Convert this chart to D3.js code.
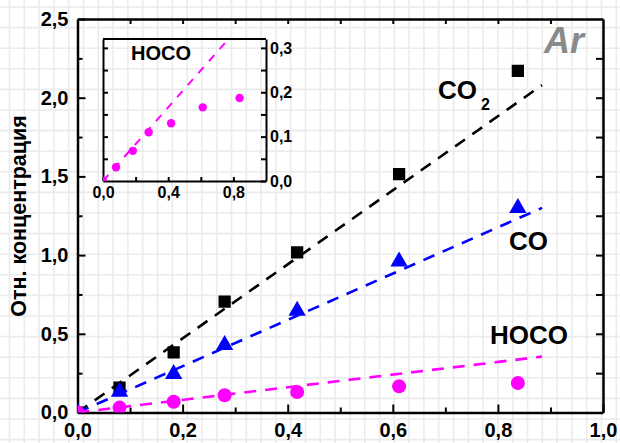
<!DOCTYPE html>
<html><head><meta charset="utf-8">
<script src="https://cdn.jsdelivr.net/npm/d3@7"></script>
<style>
body{margin:0;background:#fff}
svg text{font-family:"Liberation Sans",Arial,sans-serif;font-weight:bold}
</style>
</head><body>
<svg id="c" width="620" height="443"></svg>
<script>
// ---- data ----
const xVals   = [0, 0.08, 0.183, 0.28, 0.418, 0.612, 0.838];
const co2Vals = [0, 0.158, 0.382, 0.705, 1.018, 1.515, 2.17];
const coVals  = [0, 0.132, 0.245, 0.429, 0.647, 0.96, 1.30];
const hocoVals= [0, 0.031, 0.068, 0.11, 0.13, 0.166, 0.187];
const fitX    = [0, 0.884];
const co2Fit  = [0, 2.08];
const coFit   = [0, 1.30];
const hocoFit = [0, 0.355];
const insetFitX = [0, 0.77];
const insetFitY = [0, 0.32];
const xMajor = [0, 0.2, 0.4, 0.6, 0.8, 1.0];
const yMajor = [0, 0.5, 1.0, 1.5, 2.0, 2.5];
const insetXTicks = [0, 0.4, 0.8];
const insetYTicks = [0, 0.1, 0.2, 0.3];
const yTitle = "Отн. концентрация";

const svg = d3.select("#c");
const W = 620, H = 443;
const fmt = v => d3.format(".1f")(v).replace(".", ",");

// background grid
const gridG = svg.append("g").attr("stroke", "#ebebeb").attr("stroke-width", 1.6);
d3.range(9.5, W, 14.8).forEach(x => gridG.append("line").attr("x1", x).attr("x2", x).attr("y1", 0).attr("y2", H));
d3.range(7, H, 20.6).forEach(y => gridG.append("line").attr("y1", y).attr("y2", y).attr("x1", 0).attr("x2", W));

// main scales
const x = d3.scaleLinear([0, 1], [77.5, 603]);
const y = d3.scaleLinear([0, 2.5], [412.5, 19]);

svg.append("clipPath").attr("id", "mainClip").append("rect")
  .attr("x", x(0)).attr("y", y(2.5)).attr("width", x(1) - x(0)).attr("height", y(0) - y(2.5));

function styleAxis(g, w) {
  g.select(".domain").attr("stroke-width", w);
  g.selectAll(".tick line").attr("stroke-width", 2);
}

// minor ticks
const xMinor = d3.range(0.1, 1, 0.2);
const yMinor = d3.range(0.25, 2.5, 0.5);
svg.append("g").attr("transform", `translate(0,${y(0)})`)
  .call(d3.axisBottom(x).tickValues(xMinor).tickSize(-5).tickFormat(""))
  .call(g => { g.select(".domain").remove(); g.selectAll("line").attr("stroke-width", 2); });
svg.append("g").attr("transform", `translate(${x(0)},0)`)
  .call(d3.axisLeft(y).tickValues(yMinor).tickSize(-5).tickFormat(""))
  .call(g => { g.select(".domain").remove(); g.selectAll("line").attr("stroke-width", 2); });
// top & right
svg.append("g").attr("transform", `translate(0,${y(2.5)})`)
  .call(d3.axisTop(x).tickValues(d3.range(0.1, 1, 0.1)).tickSize(-5).tickSizeOuter(0).tickFormat(""))
  .call(g => styleAxis(g, 2.5));
svg.append("g").attr("transform", `translate(${x(1)},0)`)
  .call(d3.axisRight(y).tickValues(d3.range(0.25, 2.5, 0.25)).tickSize(-7).tickSizeOuter(0).tickFormat(""))
  .call(g => styleAxis(g, 2.5));
// bottom & left
const xa = svg.append("g").attr("transform", `translate(0,${y(0)})`)
  .call(d3.axisBottom(x).tickValues(xMajor).tickSize(-8).tickSizeOuter(0).tickPadding(10).tickFormat(fmt))
  .call(g => styleAxis(g, 2.5));
xa.selectAll("text").attr("font-size", 20).attr("fill", "#000");
const ya = svg.append("g").attr("transform", `translate(${x(0)},0)`)
  .call(d3.axisLeft(y).tickValues(yMajor).tickSize(-8).tickSizeOuter(0).tickPadding(9).tickFormat(fmt))
  .call(g => styleAxis(g, 2.5));
ya.selectAll("text").attr("font-size", 20).attr("fill", "#000");

// y title
svg.append("text").attr("transform", `translate(26,216) rotate(-90)`)
  .attr("text-anchor", "middle").attr("font-size", 21.5).text(yTitle);

// fit lines
const plot = svg.append("g").attr("clip-path", "url(#mainClip)");
const lineGen = (ys, xs, sx, sy) => d3.line().x((d, i) => sx(xs[i])).y(d => sy(d))(ys);
[[co2Fit, "#000"], [coFit, "#0000ff"], [hocoFit, "#ff00ff"]].forEach(([ys, c]) => {
  plot.append("path").attr("d", lineGen(ys, fitX, x, y)).attr("fill", "none")
    .attr("stroke", c).attr("stroke-width", 2.6).attr("stroke-dasharray", "12,9");
});
// markers
plot.selectAll(".sq").data(co2Vals).join("path")
  .attr("transform", (d, i) => `translate(${x(xVals[i])},${y(d)})`)
  .attr("d", d3.symbol(d3.symbolSquare, 150)).attr("fill", "#000");
plot.selectAll(".tr").data(coVals).join("path")
  .attr("transform", (d, i) => `translate(${x(xVals[i])},${y(d)})`)
  .attr("d", d3.symbol(d3.symbolTriangle, 130)).attr("fill", "#0000ff");
plot.selectAll(".ci").data(hocoVals).join("circle")
  .attr("cx", (d, i) => x(xVals[i])).attr("cy", d => y(d)).attr("r", 7).attr("fill", "#ff00ff");

// labels
svg.append("text").attr("x", 438).attr("y", 99).attr("font-size", 26).text("CO");
svg.append("text").attr("x", 481).attr("y", 110).attr("font-size", 16).text("2");
svg.append("text").attr("x", 509).attr("y", 250).attr("font-size", 26).text("CO");
svg.append("text").attr("x", 490).attr("y", 344).attr("font-size", 26).text("HOCO");
svg.append("text").attr("x", 544).attr("y", 53).attr("font-size", 36).attr("font-style", "italic")
  .attr("fill", "#8a8a8a").text("Ar");

// ---- inset ----
const xi = d3.scaleLinear([0, 1], [103, 266]);
const yi = d3.scaleLinear([0, 0.32], [181, 39]);
svg.append("clipPath").attr("id", "insetClip").append("rect")
  .attr("x", xi(0)).attr("y", yi(0.32)).attr("width", xi(1) - xi(0)).attr("height", yi(0) - yi(0.32));
const inset = svg.append("g");
inset.append("g").attr("transform", `translate(${xi(0)},0)`)
  .call(d3.axisLeft(yi).tickValues(d3.range(0.05, 0.32, 0.05)).tickSize(-5).tickSizeOuter(0).tickFormat(""))
  .call(g => styleAxis(g, 2));
const iya = inset.append("g").attr("transform", `translate(${xi(1)},0)`)
  .call(d3.axisRight(yi).tickValues(d3.range(0, 0.32, 0.05)).tickSize(-5).tickSizeOuter(0).tickPadding(4)
    .tickFormat(v => insetYTicks.some(t => Math.abs(t - v) < 1e-6) ? fmt(v) : ""))
  .call(g => styleAxis(g, 2));
iya.selectAll("text").attr("font-size", 16).attr("fill", "#000");
const ixa = inset.append("g").attr("transform", `translate(0,${yi(0)})`)
  .call(d3.axisBottom(xi).tickValues(d3.range(0, 1, 0.2)).tickSize(-4).tickSizeOuter(0).tickPadding(6)
    .tickFormat(v => insetXTicks.some(t => Math.abs(t - v) < 1e-6) ? fmt(v) : ""))
  .call(g => styleAxis(g, 2));
ixa.selectAll("text").attr("font-size", 16).attr("fill", "#000");
inset.append("line").attr("x1", xi(0)).attr("x2", xi(1)).attr("y1", yi(0.32)).attr("y2", yi(0.32))
  .attr("stroke", "#000").attr("stroke-width", 2);
const ip = inset.append("g").attr("clip-path", "url(#insetClip)");
ip.append("path").attr("d", lineGen(insetFitY, insetFitX, xi, yi)).attr("fill", "none")
  .attr("stroke", "#ff00ff").attr("stroke-width", 2).attr("stroke-dasharray", "8,8");
ip.selectAll("circle").data(hocoVals).join("circle")
  .attr("cx", (d, i) => xi(xVals[i])).attr("cy", d => yi(d)).attr("r", 4.2).attr("fill", "#ff00ff");
inset.append("text").attr("x", 131).attr("y", 60).attr("font-size", 20).text("HOCO");
</script>
</body></html>
